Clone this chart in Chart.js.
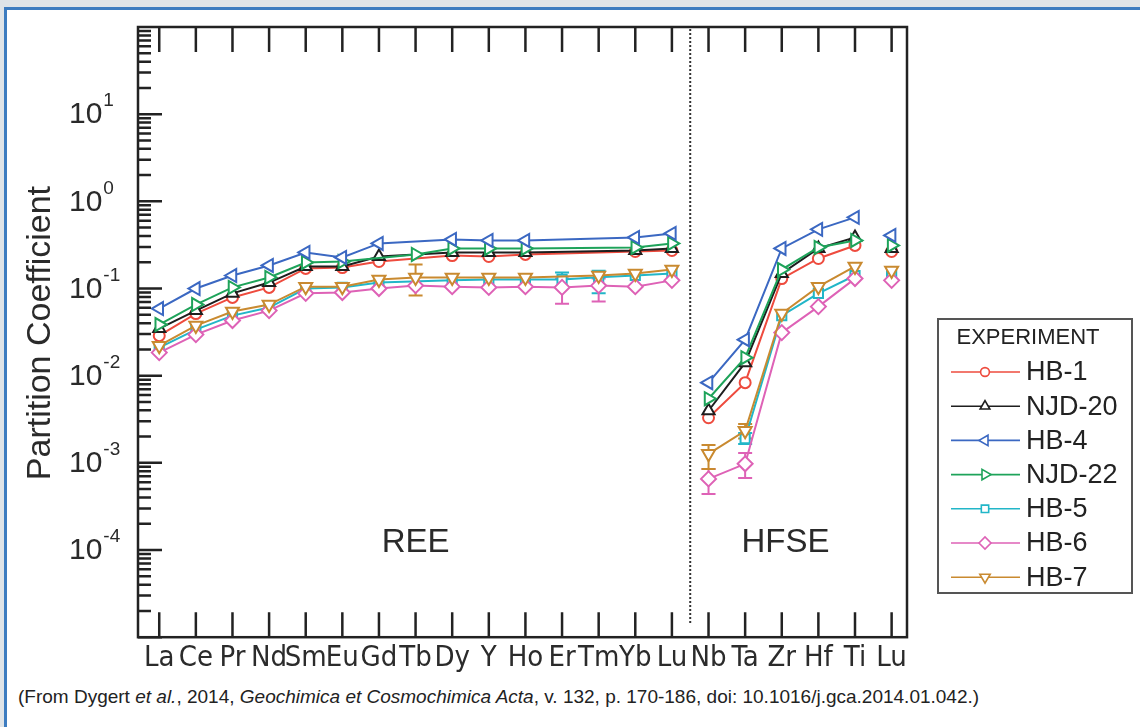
<!DOCTYPE html>
<html>
<head>
<meta charset="utf-8">
<script src="https://cdn.jsdelivr.net/npm/chart.js@4.4.1/dist/chart.umd.min.js"></script>
<style>
    html, body { margin: 0; padding: 0; background: #dfe4e8; }
    #wrap { position: relative; width: 1140px; height: 727px; overflow: hidden; background: #dfe4e8; }
    #panel { position: absolute; left: 4px; top: 7px; width: 1140px; height: 730px; background: #fff;
             border-left: 3px solid #3d7cc0; border-top: 3px solid #3d7cc0; }
    #chart { position: absolute; left: 0; top: 0; }
    #caption { position: absolute; left: 18px; top: 686px; font: 19px "Liberation Sans", Arial, sans-serif;
               color: #222; white-space: nowrap; }
</style>
</head>
<body>
<div id="wrap">
    <div id="panel"></div>
    <canvas id="chart" width="1140" height="680"></canvas>
    <div id="caption">(From Dygert <i>et al.</i>, 2014, <i>Geochimica et Cosmochimica Acta</i>, v. 132, p. 170-186, doi: 10.1016/j.gca.2014.01.042.)</div>
</div>
<script>
"use strict";

// elements along the x axis (REE then HFSE)
const elements = ["La", "Ce", "Pr", "Nd", "Sm", "Eu", "Gd", "Tb", "Dy", "Y", "Ho", "Er", "Tm", "Yb", "Lu",
    "Nb", "Ta", "Zr", "Hf", "Ti", "Lu"];

// partition coefficients, null = not measured
const hb1 = [0.0288, 0.0516, 0.079, 0.103, 0.170, 0.174, 0.204, null, 0.239, 0.233, 0.246, null, null, 0.266, 0.273,
    0.00329, 0.00832, 0.130, 0.221, 0.312, 0.266];
const njd20 = [0.0347, 0.0558, 0.088, 0.117, 0.179, 0.179, 0.233, null, 0.259, 0.259, 0.259, null, null, 0.273, 0.288,
    0.00396, 0.0141, 0.149, 0.288, 0.386, 0.288];
const hb4 = [0.0589, 0.100, 0.141, 0.184, 0.259, 0.227, 0.329, null, 0.366, 0.356, 0.356, null, null, 0.386, 0.429,
    0.00832, 0.0259, 0.288, 0.477, 0.655, 0.407];
const njd22 = [0.0386, 0.0655, 0.103, 0.134, 0.199, 0.204, null, 0.246, 0.288, 0.288, 0.288, null, null, 0.296, 0.329,
    0.00544, 0.0161, 0.165, 0.296, 0.356, 0.312];
const hb5 = [0.021, 0.0338, 0.0489, 0.0605, 0.100, 0.103, 0.117, null, 0.124, 0.127, 0.127, 0.127, 0.135, 0.141, 0.149,
    null, 0.00189, 0.0489, 0.088, 0.141, 0.141];
const hb6 = [0.0184, 0.0296, 0.0429, 0.0558, 0.088, 0.090, 0.100, 0.108, 0.105, 0.103, 0.105, 0.103, 0.108, 0.105, 0.124,
    0.000655, 0.000975, 0.0312, 0.062, 0.130, 0.124];
const hb7 = [0.0221, 0.0376, 0.0544, 0.0655, 0.105, 0.105, 0.127, 0.134, 0.134, 0.134, 0.134, null, 0.141, 0.149, 0.165,
    0.00127, 0.00233, 0.0516, 0.105, 0.179, 0.161];

// error bars: [element index, low, high]
const hb5Err = [[11, 0.105, 0.153], [12, 0.088, 0.16], [16, 0.00165, 0.0022]];
const hb6Err = [[11, 0.067, 0.13], [12, 0.071, 0.13], [15, 0.00044, 0.00085], [16, 0.00067, 0.0013]];
const hb7Err = [[7, 0.083, 0.189], [15, 0.00085, 0.0016], [16, 0.0019, 0.0028]];

const yLabelExps = [1, 0, -1, -2, -3, -4];

const series = [
    { label: "HB-1", values: hb1, err: [], color: "#ee4b3e", style: "circle", rot: 0, r: 5.5, order: 5 },
    { label: "NJD-20", values: njd20, err: [], color: "#1e1e1e", style: "triangle", rot: 0, r: 7, order: 4 },
    { label: "HB-4", values: hb4, err: [], color: "#3b68c2", style: "triangle", rot: 270, r: 7.5, order: 0 },
    { label: "NJD-22", values: njd22, err: [], color: "#1ea35a", style: "triangle", rot: 90, r: 7.5, order: 1 },
    { label: "HB-5", values: hb5, err: hb5Err, color: "#22b6c8", style: "rect", rot: 0, r: 6.5, order: 6 },
    { label: "HB-6", values: hb6, err: hb6Err, color: "#de62b6", style: "rectRot", rot: 0, r: 7.5, order: 3 },
    { label: "HB-7", values: hb7, err: hb7Err, color: "#c98a30", style: "triangle", rot: 180, r: 7.5, order: 2 },
];

const font = "'Liberation Sans', Arial, sans-serif";

// no line across the REE / HFSE divide, nor from Ti to the last Lu
function splitHere(x0, x1) {
    return (x0 < 14.5 && x1 > 14.5) || x1 === 20;
}

const datasets = series.map((s) => {
    const pts = [];
    s.values.forEach((v, i) => {
        if (v !== null) pts.push({ x: i, y: v });
    });
    return {
        label: s.label,
        data: pts,
        order: s.order,
        borderColor: s.color,
        borderWidth: 2,
        pointStyle: s.style,
        pointRotation: s.rot,
        pointRadius: s.r,
        pointBorderWidth: 2,
        pointBorderColor: s.color,
        pointBackgroundColor: "#fff",
        segment: {
            borderColor: (c) => (splitHere(pts[c.p0DataIndex].x, pts[c.p1DataIndex].x) ? "rgba(0,0,0,0)" : undefined),
        },
    };
});

const decorPlugin = {
    id: "decor",
    beforeDatasetsDraw(chart) {
        const { ctx, chartArea: a, scales: { x, y } } = chart;
        ctx.save();
        // dotted separator between REE and HFSE
        ctx.strokeStyle = "#333";
        ctx.lineWidth = 2;
        ctx.setLineDash([2, 2]);
        ctx.beginPath();
        ctx.moveTo(x.getPixelForValue(14.5), a.top + 2);
        ctx.lineTo(x.getPixelForValue(14.5), a.bottom - 13);
        ctx.stroke();
        ctx.setLineDash([]);

        // error bars
        series.forEach((s) => {
            ctx.strokeStyle = s.color;
            s.err.forEach(([i, lo, hi]) => {
                const px = x.getPixelForValue(i);
                const y1 = y.getPixelForValue(lo);
                const y2 = y.getPixelForValue(hi);
                ctx.beginPath();
                ctx.moveTo(px, y1);
                ctx.lineTo(px, y2);
                ctx.moveTo(px - 7, y1);
                ctx.lineTo(px + 7, y1);
                ctx.moveTo(px - 7, y2);
                ctx.lineTo(px + 7, y2);
                ctx.stroke();
            });
        });
        ctx.restore();
    },
    afterDraw(chart) {
        const { ctx, chartArea: a, scales: { x, y } } = chart;
        ctx.save();
        ctx.strokeStyle = "#222";
        ctx.lineWidth = 2.5;
        ctx.strokeRect(a.left, a.top, a.right - a.left, a.bottom - a.top);

        // category ticks on top and bottom, pointing inward
        ctx.beginPath();
        elements.forEach((el, i) => {
            const px = x.getPixelForValue(i);
            ctx.moveTo(px, a.top);
            ctx.lineTo(px, a.top + 25);
            ctx.moveTo(px, a.bottom);
            ctx.lineTo(px, a.bottom - 25);
        });
        ctx.stroke();

        // log ticks on the left axis
        ctx.beginPath();
        for (let e = -5; e <= 1; e++) {
            for (let m = 1; m <= 9; m++) {
                const py = y.getPixelForValue(m * Math.pow(10, e));
                ctx.moveTo(a.left, py);
                ctx.lineTo(a.left + (m === 1 ? 24 : 13), py);
            }
        }
        ctx.stroke();

        // y tick labels as 10^n
        ctx.fillStyle = "#2a2a2a";
        ctx.textBaseline = "middle";
        ctx.textAlign = "left";
        yLabelExps.forEach((e) => {
            const py = y.getPixelForValue(Math.pow(10, e));
            ctx.font = `30px ${font}`;
            ctx.fillText("10", 69, py + 1);
            const w = ctx.measureText("10").width;
            ctx.font = `19px ${font}`;
            ctx.fillText(String(e), 70 + w, py - 13);
        });

        // y axis title
        ctx.save();
        ctx.translate(41, (a.top + a.bottom) / 2 + 1);
        ctx.rotate(-Math.PI / 2);
        ctx.textAlign = "center";
        ctx.font = `34px ${font}`;
        ctx.fillText("Partition Coefficient", 0, 0);
        ctx.restore();

        // group names
        ctx.textAlign = "center";
        ctx.font = `33px ${font}`;
        ctx.fillText("REE", x.getPixelForValue(7), y.getPixelForValue(1.2e-4));
        ctx.fillText("HFSE", x.getPixelForValue(17.1), y.getPixelForValue(1.2e-4));

        // legend
        ctx.lineWidth = 2;
        ctx.strokeStyle = "#555";
        ctx.strokeRect(938, 319, 194, 274);
        ctx.fillStyle = "#222";
        ctx.font = `22px ${font}`;
        ctx.fillText("EXPERIMENT", 1028, 338);
        ctx.textAlign = "left";
        ctx.font = `27px ${font}`;
        series.forEach((s, i) => {
            const ly = 372 + 34.2 * i;
            ctx.strokeStyle = s.color;
            ctx.lineWidth = 1.6;
            ctx.beginPath();
            ctx.moveTo(951, ly);
            ctx.lineTo(1020, ly);
            ctx.stroke();
            ctx.fillStyle = "#fff";
            Chart.helpers.drawPoint(ctx, { pointStyle: s.style, rotation: s.rot, radius: s.r * 0.8, borderWidth: 2 }, 985, ly);
            ctx.fillStyle = "#222";
            ctx.fillText(s.label, 1026, ly + 1);
        });
        ctx.restore();
    },
};

new Chart(document.getElementById("chart"), {
    type: "line",
    data: { datasets: datasets },
    options: {
        responsive: false,
        animation: false,
        layout: { padding: { left: 138, right: 233, top: 27, bottom: 0 } },
        plugins: {
            legend: { display: false },
            tooltip: { enabled: false },
        },
        scales: {
            x: {
                type: "linear",
                min: -0.58,
                max: 20.42,
                grid: { display: false, drawTicks: false },
                border: { display: false },
                afterBuildTicks: (scale) => {
                    scale.ticks = elements.map((el, i) => ({ value: i }));
                },
                ticks: {
                    autoSkip: false,
                    maxRotation: 0,
                    padding: 4,
                    color: "#2b2b2b",
                    font: { family: "'Liberation Sans Narrow', 'DejaVu Sans Condensed', sans-serif", size: 29 },
                    callback: (v) => elements[v] ?? "",
                },
            },
            y: {
                type: "logarithmic",
                display: false,
                min: 1e-5,
                max: 100,
            },
        },
    },
    plugins: [decorPlugin],
});
</script>
</body>
</html>
